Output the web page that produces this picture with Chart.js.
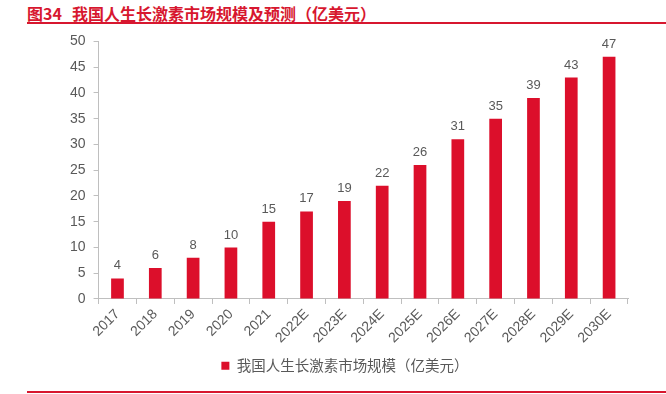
<!DOCTYPE html>
<html><head><meta charset="utf-8">
<script src="https://cdn.jsdelivr.net/npm/chart.js@4/dist/chart.umd.min.js"></script>
<style>
body{margin:0;background:#fff;width:666px;height:394px;position:relative;overflow:hidden;font-family:"Noto Sans CJK SC",sans-serif;}
#title{position:absolute;left:27px;top:1px;font-size:16px;font-weight:bold;color:#d7172f;white-space:nowrap;}
#title span{margin-left:10px;}
#l1{position:absolute;left:27px;right:0;top:22px;height:2px;background:#d7172f;}
#l2{position:absolute;left:27px;right:0;top:391px;height:2px;background:#d7172f;}
#wrap{position:absolute;left:0;top:25px;width:666px;height:358px;}
</style></head><body>
<div id="title">图34<span>我国人生长激素市场规模及预测（亿美元）</span></div>
<div id="l1"></div>
<div id="wrap"><canvas id="c"></canvas></div>
<div id="l2"></div>
<script>
const categories=["2017","2018","2019","2020","2021","2022E","2023E","2024E","2025E","2026E","2027E","2028E","2029E","2030E"];
const values=[4,6,8,10,15,17,19,22,26,31,35,39,43,47];
const seriesName="我国人生长激素市场规模（亿美元）";
const yTicks=[0,5,10,15,20,25,30,35,40,45,50];

const labelPlugin={id:'lbl',afterDatasetsDraw(chart){
  const ctx=chart.ctx;const meta=chart.getDatasetMeta(0);
  ctx.save();ctx.fillStyle='#595959';ctx.font='13px "Liberation Sans", Arial, sans-serif';
  ctx.textAlign='center';ctx.textBaseline='bottom';
  meta.data.forEach((b,i)=>{ctx.fillText(values[i],b.x,b.y-6);});
  ctx.restore();}};

new Chart(document.getElementById('c'),{
  type:'bar',
  data:{labels:categories,datasets:[{label:seriesName,data:values,backgroundColor:'#dc0f2b',barPercentage:0.8,categoryPercentage:0.42}]},
  options:{responsive:true,maintainAspectRatio:false,animation:false,
    layout:{padding:{left:62,right:38,top:9,bottom:0}},
    plugins:{legend:{position:'bottom',labels:{boxWidth:8,boxHeight:8,color:'#595959',font:{size:14.5,family:'"Noto Sans CJK SC"'},padding:10}},tooltip:{enabled:false}},
    scales:{
      x:{grid:{display:true,drawOnChartArea:false,tickLength:5,color:'#bfbfbf',offset:true},border:{color:'#bfbfbf'},
        ticks:{color:'#595959',font:{size:14,family:'"Liberation Sans", Arial'},maxRotation:45,minRotation:45,padding:2}},
      y:{min:0,max:50,afterBuildTicks(ax){ax.ticks=yTicks.map(v=>({value:v}));},
        grid:{display:true,drawOnChartArea:false,tickLength:5,color:'#bfbfbf'},border:{color:'#bfbfbf'},
        ticks:{color:'#595959',font:{size:14,family:'"Liberation Sans", Arial'},padding:8}}
    }},
  plugins:[labelPlugin]
});
</script></body></html>
